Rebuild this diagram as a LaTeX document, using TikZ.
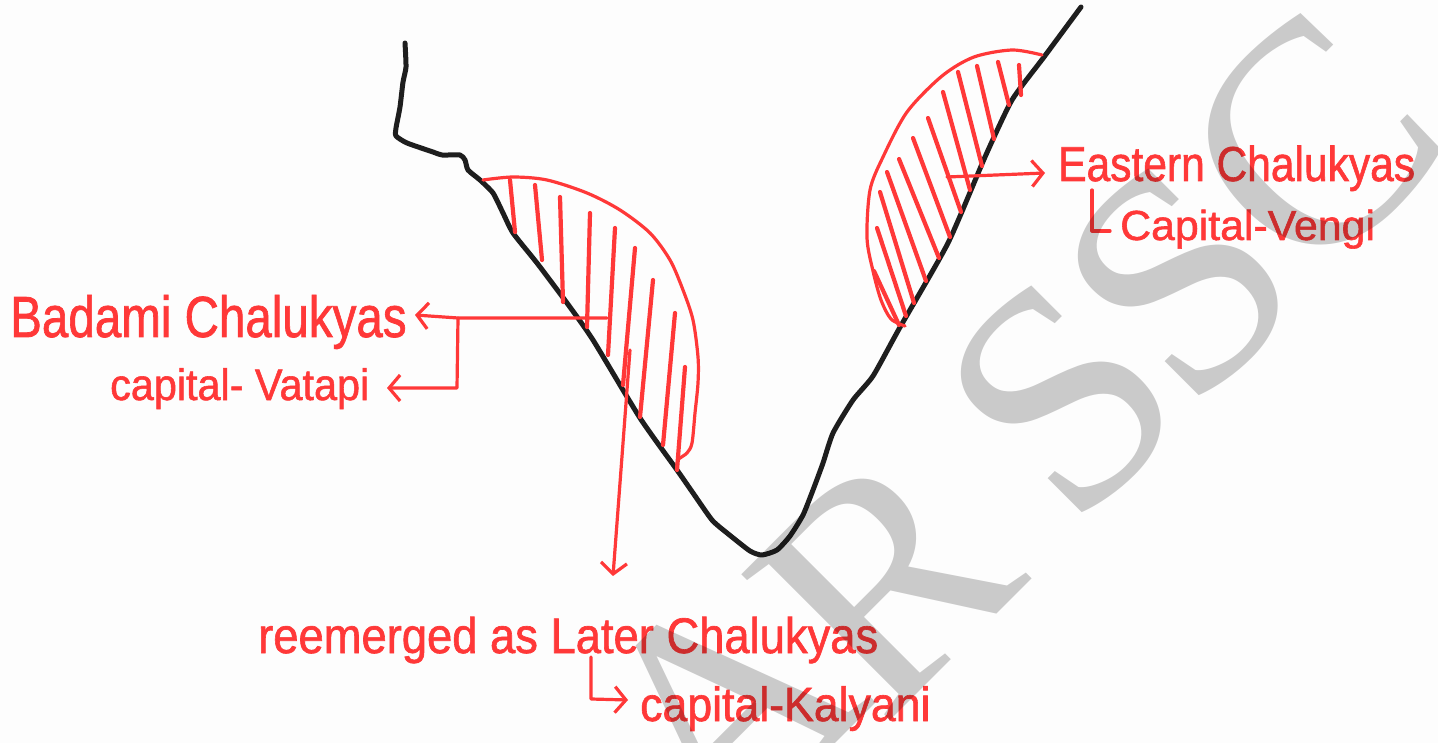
\documentclass[tikz,border=0pt]{standalone}
\usepackage{fontspec}
\setmainfont{Liberation Sans}
\newfontfamily\handfont[FakeBold=1.3]{Liberation Sans}
\newfontfamily\wmfont{Liberation Serif}
\usepackage{graphicx}
\usetikzlibrary{arrows.meta}
\definecolor{pen}{RGB}{255,56,56}
\definecolor{ink}{RGB}{30,30,30}
\definecolor{paper}{RGB}{253,253,253}
\newcommand{\handtxt}[3]{\scalebox{#2}[1]{\handfont\fontsize{#1}{#1}\selectfont #3}}
\begin{document}
\begin{tikzpicture}[x=1pt,y=-1pt,
  hand/.style={text=pen, inner sep=0pt, anchor=base west},
  valley/.style={draw=ink, line width=5pt, line cap=round, line join=round},
  rim/.style={draw=pen, line width=3.2pt, line cap=round, line join=round},
  hatch/.style={draw=pen, line width=4.2pt, line cap=round},
  link/.style={draw=pen, line width=3.2pt, line cap=round, line join=round},
  arr/.style={link, -{Straight Barb[length=11pt,width=26pt]}},
  wm/.style={text=black, text opacity=0.2, inner sep=0pt, rotate=45, font=\wmfont\fontsize{318}{318}\selectfont}
]
\fill[paper] (0,0) rectangle (1438,743);
\useasboundingbox (0,0) rectangle (1438,743);

% valley outline
\draw[valley] plot[smooth, tension=0.35] coordinates {
 (405,43) (406,67) (403,82) (400,107) (396,128) (396,136) (407,143) (433,152)
 (442,155) (460,155) (465,160) (468,170) (480,180) (493,193) (503,213) (513,233)
 (537,263) (567,303) (593,340) (640,418) (677,470) (693,493) (712,520) (727,533)
 (750,551) (762,555) (777,550) (790,536) (803,515) (813,490) (823,463) (833,433)
 (853,400) (873,376) (899,329) (948,243) (985,157) (1012,100) (1044,57) (1081,7)};

% Badami region
\draw[rim] plot[smooth, tension=0.5] coordinates {
 (483,180) (513,177) (547,180) (587,193) (620,210) (650,233) (670,260) (683,290)
 (693,320) (698,357) (698,383) (695,413) (692,443) (687,453) (678,460) (677,470)};
\draw[hatch] (510,180) -- (515,232);
\draw[hatch] (535,185) -- (542,260);
\draw[hatch] (560,197) -- (563,302);
\draw[hatch] (590,213) -- (587,327);
\draw[hatch] (615,228) -- (608,355);
\draw[hatch] (635,248) -- (623,385);
\draw[hatch] (653,280) -- (640,417);
\draw[hatch] (675,313) -- (663,445);
\draw[hatch] (685,367) -- (677,470);

% Eastern region
\draw[rim] plot[smooth, tension=0.5] coordinates {
 (1042,55) (1012,50) (974,57) (942,76) (907,112) (883,157) (870,190) (867,238)
 (873,271) (881,300) (891,319) (905,326)};
\draw[hatch] (1019,65) -- (1021,95);
\draw[hatch] (998,62) -- (1009,105);
\draw[hatch] (977,66) -- (994,139);
\draw[hatch] (958,72) -- (982,166);
\draw[hatch] (943,92) -- (970,190);
\draw[hatch] (928,118) -- (961,212);
\draw[hatch] (913,138) -- (950,237);
\draw[hatch] (899,159) -- (939,258);
\draw[hatch] (887,172) -- (926,281);
\draw[hatch] (880,192) -- (914,303);
\draw[hatch] (877,228) -- (906,316);
\draw[hatch] (874,271) -- (899,325);

% texts
\node[hand] (badami) at (10,337) {\handtxt{58}{0.82}{Badami Chalukyas}};
\node[hand] (vatapi) at (110,400) {\handtxt{44}{0.94}{capital- Vatapi}};
\node[hand] (eastern) at (1058,181) {\handtxt{49}{0.868}{Eastern Chalukyas}};
\node[hand] (vengi) at (1120,240) {\handtxt{42}{1.02}{Capital-Vengi}};
\node[hand] (later) at (258,653) {\handtxt{50}{0.907}{reemerged as Later Chalukyas}};
\node[hand] (kalyani) at (640,721) {\handtxt{48}{0.93}{capital-Kalyani}};

% connectors
\coordinate (bfrom) at (607,318);
\coordinate (bjoin) at (458,318);
\coordinate (bto) at (415,315);
\coordinate (vbend) at (457,388);
\coordinate (vto) at (387,388);
\draw[arr] (bfrom) -- (bjoin) -- (bto);
\draw[arr] (bjoin) -- (vbend) -- (vto);

\coordinate (dfrom) at (630,350);
\coordinate (dto) at (613,576);
\draw[arr] (dfrom) -- (dto);

\coordinate (kfrom) at (591,657);
\coordinate (kbend) at (591,699);
\coordinate (kto) at (628,700);
\draw[arr] (kfrom) -- (kbend) -- (kto);

\coordinate (efrom) at (947,177);
\coordinate (eto) at (1045,173);
\draw[arr] (efrom) -- (eto);

\coordinate (lfrom) at (1092,190);
\coordinate (lbend) at (1092,231);
\coordinate (lto) at (1110,231);
\draw[link] (lfrom) -- (lbend) -- (lto);

% watermark
\begin{scope}
\clip (0,0) rectangle (1438,743);
\node[wm] (wmA) at (722,708) {A};
\node[wm] (wmR) at (884,580) {R};
\node[wm] (wmS1) at (1062,398) {S};
\node[wm] (wmS2) at (1179,281) {S};
\node[wm] (wmC) at (1311,143) {C};
\end{scope}
\end{tikzpicture}
\end{document}
